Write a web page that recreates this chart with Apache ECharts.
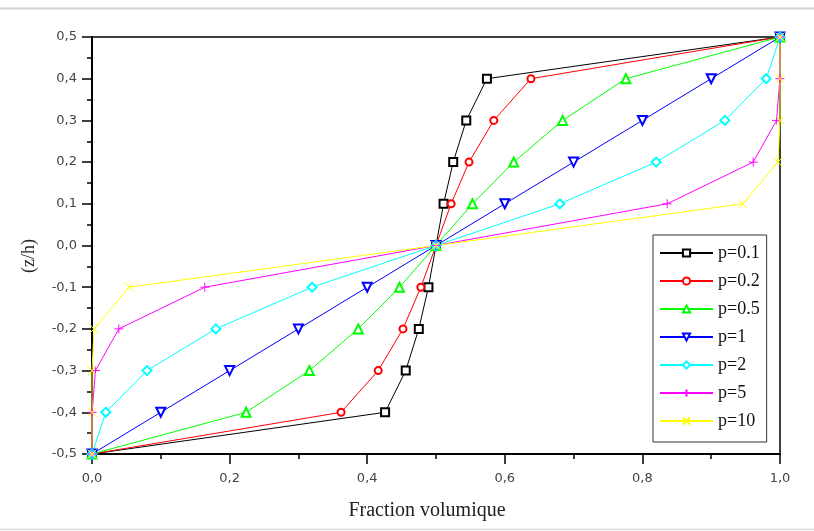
<!DOCTYPE html>
<html>
<head>
<meta charset="utf-8">
<script src="https://cdn.jsdelivr.net/npm/echarts@6/dist/echarts.min.js"></script>
<style>
html,body{margin:0;padding:0;background:#fff;}
#c{width:814px;height:531px;}
</style>
</head>
<body>
<div id="c"></div>
<script>
// z/h levels (y values)
var zLevels = [-0.5, -0.4, -0.3, -0.2, -0.1, 0.0, 0.1, 0.2, 0.3, 0.4, 0.5];
// volume fraction (x values) read for each series
var fracP01 = [0, 0.426, 0.456, 0.475, 0.489, 0.5, 0.511, 0.525, 0.544, 0.574, 1];
var fracP02 = [0, 0.362, 0.416, 0.452, 0.478, 0.5, 0.522, 0.548, 0.584, 0.638, 1];
var fracP05 = [0, 0.224, 0.316, 0.387, 0.447, 0.5, 0.553, 0.613, 0.684, 0.776, 1];
var fracP1  = [0, 0.1, 0.2, 0.3, 0.4, 0.5, 0.6, 0.7, 0.8, 0.9, 1];
var fracP2  = [0, 0.02, 0.08, 0.18, 0.32, 0.5, 0.68, 0.82, 0.92, 0.98, 1];
var fracP5  = [0, 0.0002, 0.005, 0.039, 0.164, 0.5, 0.836, 0.961, 0.995, 0.9998, 1];
var fracP10 = [0, 0, 0, 0.003, 0.054, 0.5, 0.946, 0.997, 1, 1, 1];
var seriesNames = ['p=0.1', 'p=0.2', 'p=0.5', 'p=1', 'p=2', 'p=5', 'p=10'];
var xTicks = [0, 0.2, 0.4, 0.6, 0.8, 1.0];
var yTicks = [-0.5, -0.4, -0.3, -0.2, -0.1, 0, 0.1, 0.2, 0.3, 0.4, 0.5];

var seriesX = [fracP01, fracP02, fracP05, fracP1, fracP2, fracP5, fracP10];
var colors = ['#000000', '#ff0000', '#00ff00', '#0000ff', '#00ffff', '#ff00ff', '#ffff00'];
var symbols = ['emptyRect', 'emptyCircle', 'emptyTriangle', 'emptyTriangle', 'emptyDiamond',
  'path://M5,0L5,10M0,5L10,5', 'path://M0,0L10,10M10,0L0,10'];
var symSizes = [8, 7, 9, 9, 9, 9, 9];
var symRot = [0, 0, 0, 180, 0, 0, 0];

function fmt(v) {
  var s = (Math.round(v * 10) / 10).toFixed(1);
  if (s === '-0.0') s = '0.0';
  return s.replace('.', ',');
}

var series = seriesNames.map(function (name, i) {
  var data = zLevels.map(function (z, k) { return [seriesX[i][k], z]; });
  return {
    name: name,
    type: 'line',
    data: data,
    color: colors[i],
    symbol: symbols[i],
    symbolSize: symSizes[i],
    symbolRotate: symRot[i],
    showAllSymbol: true,
    animation: false,
    lineStyle: { width: 1, color: colors[i] },
    itemStyle: { color: colors[i], borderColor: colors[i], borderWidth: 1 },
    emphasis: { disabled: true }
  };
});

var chart = echarts.init(document.getElementById('c'), null, { renderer: 'canvas' });
chart.setOption({
  backgroundColor: '#ffffff',
  animation: false,
  grid: { left: 92, right: 34, top: 37, bottom: 77, show: true, borderColor: '#000', borderWidth: 1.5, backgroundColor: 'transparent' },
  xAxis: {
    type: 'value', min: 0, max: 1, interval: 0.2,
    axisLine: { show: true, onZero: false, lineStyle: { color: '#000', width: 2 } },
    axisTick: { show: true, length: 10, lineStyle: { color: '#000', width: 1.5 } },
    minorTick: { show: true, splitNumber: 2, length: 5, lineStyle: { color: '#000', width: 1.5 } },
    splitLine: { show: false },
    axisLabel: { margin: 18, color: '#444', fontFamily: 'DejaVu Sans', fontSize: 13, formatter: function (v) { return fmt(v); } }
  },
  yAxis: {
    type: 'value', min: -0.5, max: 0.5, interval: 0.1,
    axisLine: { show: true, onZero: false, lineStyle: { color: '#000', width: 2 } },
    axisTick: { show: true, length: 10, lineStyle: { color: '#000', width: 1.5 } },
    minorTick: { show: true, splitNumber: 2, length: 5, lineStyle: { color: '#000', width: 1.5 } },
    splitLine: { show: false },
    axisLabel: { margin: 15, color: '#444', fontFamily: 'DejaVu Sans', fontSize: 13, formatter: function (v) { return fmt(v); } }
  },
  legend: {
    orient: 'vertical',
    left: 653, top: 235,
    padding: [9, 7, 12, 6],
    itemWidth: 53, itemHeight: 9, itemGap: 10,
    borderColor: '#333', borderWidth: 1,
    backgroundColor: '#fff',
    textStyle: { fontFamily: 'Liberation Serif', fontSize: 18, color: '#111' },
    data: seriesNames
  },
  graphic: [
    { type: 'text', x: 427, y: 511, style: { text: 'Fraction volumique', font: '20px "Liberation Serif"', fill: '#222', align: 'center', verticalAlign: 'middle' } },
    { type: 'text', x: 29, y: 256, rotation: Math.PI / 2, style: { text: '(z/h)', font: '18px "Liberation Serif"', fill: '#222', align: 'center', verticalAlign: 'middle' } },
    { type: 'line', shape: { x1: 0, y1: 8.5, x2: 814, y2: 8.5 }, style: { stroke: '#d4d4d4', lineWidth: 2 } },
    { type: 'line', shape: { x1: 0, y1: 529.5, x2: 814, y2: 529.5 }, style: { stroke: '#dddddd', lineWidth: 1.5 } }
  ],
  series: series
});
</script>
</body>
</html>
